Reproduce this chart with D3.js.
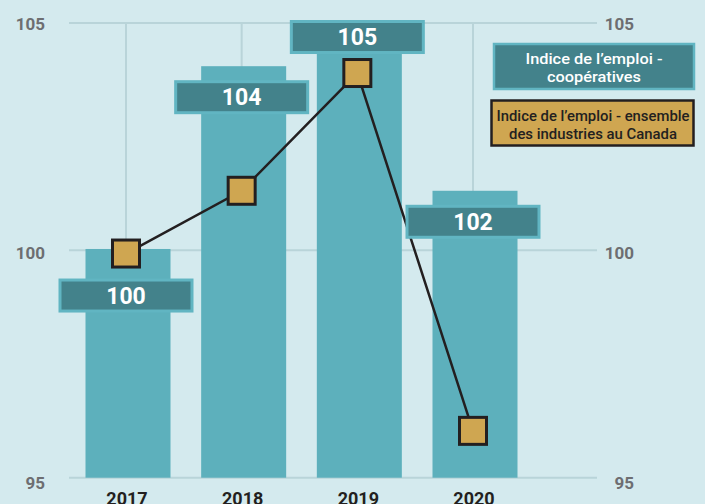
<!DOCTYPE html>
<html>
<head>
<meta charset="utf-8">
<script src="https://cdn.jsdelivr.net/npm/d3@7"></script>
<style>
  html, body { margin: 0; padding: 0; background: #d4eaee; }
  svg { display: block; font-family: Roboto, "Noto Sans", sans-serif; }
</style>
</head>
<body>
<svg id="chart" width="705" height="504"></svg>
<script>
// données
const years = ["2017", "2018", "2019", "2020"];
const coopIndex = [100.03, 104.05, 104.8, 101.31];      // barres
const coopLabels = ["100", "104", "105", "102"];        // étiquettes des barres
const canadaIndex = [99.93, 101.31, 103.9, 96.03];      // ligne
const yTicks = [95, 100, 105];
const legendCoop = ["Indice de l\u2019emploi -", "coop\u00e9ratives"];
const legendCanada = ["Indice de l\u2019emploi - ensemble", "des industries au Canada"];

const barColor = "#5db0bc";
const labelFill = "#43828b";
const labelRim = "#61b5c2";
const markerFill = "#cfa651";
const ink = "#231f20";
const gridColor = "#b9d4d9";
const axisText = "#6d6e71";

const plotLeft = 69, plotRight = 597;

const svg = d3.select("#chart");

const x = d3.scalePoint()
    .domain(years)
    .range([126, 473]);

const y = d3.scaleLinear()
    .domain([95, 105])
    .range([477.7, 23]);

// grille horizontale
svg.append("g")
    .selectAll("line")
    .data(yTicks)
    .enter().append("line")
    .attr("x1", plotLeft)
    .attr("x2", plotRight)
    .attr("y1", d => y(d))
    .attr("y2", d => y(d))
    .attr("stroke", gridColor)
    .attr("stroke-width", 2);

// grille verticale
svg.append("g")
    .selectAll("line")
    .data(years)
    .enter().append("line")
    .attr("x1", d => x(d))
    .attr("x2", d => x(d))
    .attr("y1", y(105))
    .attr("y2", y(95))
    .attr("stroke", gridColor)
    .attr("stroke-width", 2);

// barres
const barW = 85;
svg.append("g")
    .selectAll("rect")
    .data(years)
    .enter().append("rect")
    .attr("x", d => x(d) - barW / 2 + 2)
    .attr("width", barW)
    .attr("y", (d, i) => y(coopIndex[i]))
    .attr("height", (d, i) => y(95) - y(coopIndex[i]))
    .attr("fill", barColor);

// axes gauche et droite
const leftAxis = svg.append("g")
    .attr("transform", `translate(45,0)`)
    .call(d3.axisLeft(y).tickValues(yTicks).tickSize(0).tickPadding(0));
const rightAxis = svg.append("g")
    .attr("transform", `translate(634,0)`)
    .call(d3.axisLeft(y).tickValues(yTicks).tickSize(0).tickPadding(0));
[leftAxis, rightAxis].forEach(a => {
    a.select(".domain").remove();
    a.selectAll("text")
        .attr("font-family", "Roboto, sans-serif")
        .attr("font-size", 17)
        .attr("font-weight", 700)
        .attr("fill", axisText)
        .attr("dy", d => (0.36 + (105 - d) * 0.025) + "em");
});

// axe des années
svg.append("g")
    .selectAll("text")
    .data(years)
    .enter().append("text")
    .attr("x", d => x(d) + 1)
    .attr("y", 505)
    .attr("text-anchor", "middle")
    .attr("font-size", 18)
    .attr("font-weight", 700)
    .attr("fill", ink)
    .text(d => d);

// ligne
const line = d3.line()
    .x((d, i) => x(years[i]))
    .y(d => y(d));

svg.append("path")
    .datum(canadaIndex)
    .attr("d", line)
    .attr("fill", "none")
    .attr("stroke", ink)
    .attr("stroke-width", 2.5);

// étiquettes des barres (déplacées si elles touchent un marqueur)
const boxW = 135, boxH = 34;
const labelY = coopIndex.map((v, i) => {
    let c = y(v) + 31;
    const m = y(canadaIndex[i]);
    if (Math.abs(c - m) < 40) c = c < m ? m - 36 : m + 42;
    return c;
});

const labels = svg.append("g")
    .selectAll("g")
    .data(years)
    .enter().append("g")
    .attr("transform", (d, i) => `translate(${x(d)},${labelY[i]})`);

labels.append("rect")
    .attr("x", -boxW / 2 + 1.5)
    .attr("y", -boxH / 2 + 1.5)
    .attr("width", boxW - 3)
    .attr("height", boxH - 3)
    .attr("fill", labelFill)
    .attr("stroke", labelRim)
    .attr("stroke-width", 3);

labels.append("text")
    .attr("text-anchor", "middle")
    .attr("dy", "0.36em")
    .attr("font-size", 23)
    .attr("font-weight", 700)
    .attr("fill", "#ffffff")
    .text((d, i) => coopLabels[i]);

// marqueurs
const mk = 27;
svg.append("g")
    .selectAll("rect")
    .data(canadaIndex)
    .enter().append("rect")
    .attr("x", (d, i) => x(years[i]) - mk / 2)
    .attr("y", d => y(d) - mk / 2)
    .attr("width", mk)
    .attr("height", mk)
    .attr("fill", markerFill)
    .attr("stroke", ink)
    .attr("stroke-width", 3);

// légende
const legend = svg.append("g");

legend.append("rect")
    .attr("x", 494).attr("y", 44)
    .attr("width", 200).attr("height", 45)
    .attr("fill", labelFill)
    .attr("stroke", labelRim)
    .attr("stroke-width", 2.5);

legend.selectAll("text.coop")
    .data(legendCoop)
    .enter().append("text")
    .attr("class", "coop")
    .attr("x", 594)
    .attr("y", (d, i) => 63.5 + i * 18)
    .attr("text-anchor", "middle")
    .attr("font-size", 14.5)
    .attr("font-weight", 500)
    .attr("fill", "#ffffff")
    .attr("textLength", (d, i) => i === 0 ? 137 : 94)
    .attr("lengthAdjust", "spacingAndGlyphs")
    .text(d => d);

legend.append("rect")
    .attr("x", 491.5).attr("y", 100.5)
    .attr("width", 202).attr("height", 45)
    .attr("fill", markerFill)
    .attr("stroke", ink)
    .attr("stroke-width", 2.5);

legend.selectAll("text.canada")
    .data(legendCanada)
    .enter().append("text")
    .attr("class", "canada")
    .attr("x", 593)
    .attr("y", (d, i) => 120.5 + i * 18)
    .attr("text-anchor", "middle")
    .attr("font-size", 14)
    .attr("font-weight", 500)
    .attr("fill", ink)
    .attr("textLength", (d, i) => i === 0 ? 193 : 168)
    .attr("lengthAdjust", "spacingAndGlyphs")
    .text(d => d);
</script>
</body>
</html>
